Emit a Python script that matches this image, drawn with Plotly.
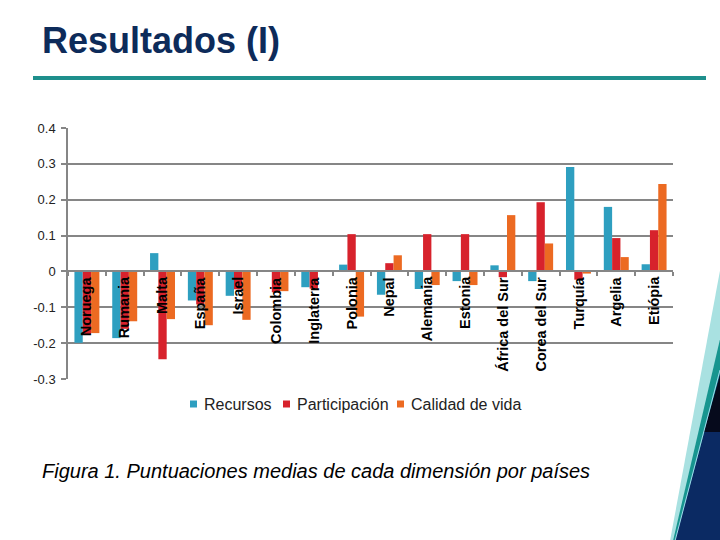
import plotly.graph_objects as go

paises = ["Noruega", "Rumania", "Malta", "España", "Israel", "Colombia", "Inglaterra",
          "Polonia", "Nepal", "Alemania", "Estonia", "África del Sur", "Corea del Sur",
          "Turquía", "Argelia", "Etiópia"]
recursos = [-0.199, -0.186, 0.051, -0.081, -0.068, 0.0, -0.044,
            0.019, -0.065, -0.049, -0.027, 0.017, -0.027, 0.291, 0.180, 0.020]
participacion = [-0.175, -0.16, -0.245, -0.092, -0.05, -0.058, -0.048,
                 0.104, 0.023, 0.104, 0.104, -0.016, 0.193, -0.023, 0.093, 0.115]
calidad = [-0.172, -0.139, -0.133, -0.150, -0.135, -0.055, 0.0,
           -0.126, 0.045, -0.038, -0.038, 0.157, 0.078, -0.006, 0.040, 0.244]
series_names = ["Recursos", "Participación", "Calidad de vida"]
series_colors = ["#2e9fc0", "#d7222c", "#ec6a22"]
y_ticks = [-0.3, -0.2, -0.1, 0, 0.1, 0.2, 0.3, 0.4]
y_tick_labels = ["-0.3", "-0.2", "-0.1", "0", "0.1", "0.2", "0.3", "0.4"]

FONT = "Liberation Sans, Arial, sans-serif"
W, H = 720, 540
L, R, T, B = 68, 673, 128, 379


def px(x):
    return (x - L) / (R - L)


def py(y):
    return (B - y) / (B - T)


fig = go.Figure()
for name, vals, col in zip(series_names, [recursos, participacion, calidad], series_colors):
    fig.add_trace(go.Bar(name=name, x=paises, y=vals, marker_color=col,
                         marker_line_width=0, showlegend=False))

annotations = []
for p in paises:
    annotations.append(dict(x=p, y=0, xref="x", yref="y", text="<b>%s</b>" % p,
                            textangle=-90, showarrow=False, xanchor="center",
                            yanchor="top", yshift=-3,
                            font=dict(family=FONT, size=14.5, color="#000000")))
annotations.append(dict(x=px(40), y=py(40), xref="paper", yref="paper",
                        text="<b>Resultados (I)</b>", showarrow=False,
                        xanchor="left", yanchor="middle",
                        font=dict(family=FONT, size=36, color="#0d2b5a")))
annotations.append(dict(x=px(40), y=py(471), xref="paper", yref="paper",
                        text="<i>Figura 1. Puntuaciones medias de cada dimensión por países</i>",
                        showarrow=False, xanchor="left", yanchor="middle",
                        font=dict(family=FONT, size=20, color="#000000")))

shapes = [
    dict(type="line", xref="paper", yref="paper", x0=px(33), x1=px(706),
         y0=py(78), y1=py(78), line=dict(color="#1e8f8c", width=4)),
]

# manual legend
legend_x = [190, 283, 397]
for name, col, lx in zip(series_names, series_colors, legend_x):
    shapes.append(dict(type="rect", xref="paper", yref="paper",
                       x0=px(lx), x1=px(lx + 7), y0=py(407.5), y1=py(400.5),
                       fillcolor=col, line=dict(width=0)))
    annotations.append(dict(x=px(lx + 12), y=py(404), xref="paper", yref="paper",
                            text=name, showarrow=False, xanchor="left", yanchor="middle",
                            font=dict(family=FONT, size=16, color="#222222")))

# decorative corner
shapes += [
    dict(type="path", xref="paper", yref="paper",
         path="M %f %f L %f %f L %f %f Z" % (px(721), py(265), px(721), py(541), px(670), py(541)),
         fillcolor="#a9e1e1", line=dict(width=0)),
    dict(type="path", xref="paper", yref="paper",
         path="M %f %f L %f %f L %f %f Z" % (px(721), py(335), px(721), py(541), px(673), py(541)),
         fillcolor="#17958f", line=dict(width=0)),
    dict(type="path", xref="paper", yref="paper",
         path="M %f %f L %f %f L %f %f Z" % (px(721), py(370), px(721), py(541), px(675), py(541)),
         fillcolor="#0b2a63", line=dict(width=0)),
    dict(type="path", xref="paper", yref="paper",
         path="M %f %f L %f %f L %f %f Z" % (px(721), py(372), px(721), py(432), px(704), py(432)),
         fillcolor="#060a1c", line=dict(width=0)),
    dict(type="line", xref="paper", yref="paper", x0=px(720), y0=py(370), x1=px(675), y1=py(541),
         line=dict(color="#9fd8ea", width=1)),
]

fig.update_layout(
    width=W, height=H,
    margin=dict(l=L, r=W - R, t=T, b=H - B, pad=0),
    paper_bgcolor="white", plot_bgcolor="white",
    barmode="group", bargap=0.34, bargroupgap=0.0,
    font=dict(family=FONT, size=12, color="#222222"),
    showlegend=False,
    xaxis=dict(type="category", showticklabels=False, showgrid=False,
               showline=True, linecolor="#868686", linewidth=1.5,
               ticks="outside", ticklen=4, tickcolor="#868686", tickwidth=1.5,
               tickson="boundaries", anchor="free",
               position=(0 - (-0.3)) / 0.7, zeroline=False),
    yaxis=dict(range=[-0.3, 0.4], tickvals=y_ticks, ticktext=y_tick_labels,
               showgrid=True, gridcolor="#868686", gridwidth=1.5,
               showline=True, linecolor="#868686", linewidth=1.5,
               ticks="outside", ticklen=5, tickcolor="#868686", tickwidth=1.5,
               ticklabelstandoff=3,
               zeroline=False, tickfont=dict(family=FONT, size=13, color="#222222")),
    annotations=annotations,
    shapes=shapes,
)

fig.write_html("out.html", config={"displayModeBar": False},
               post_script="document.body.style.margin='0';document.body.style.overflow='hidden';")
